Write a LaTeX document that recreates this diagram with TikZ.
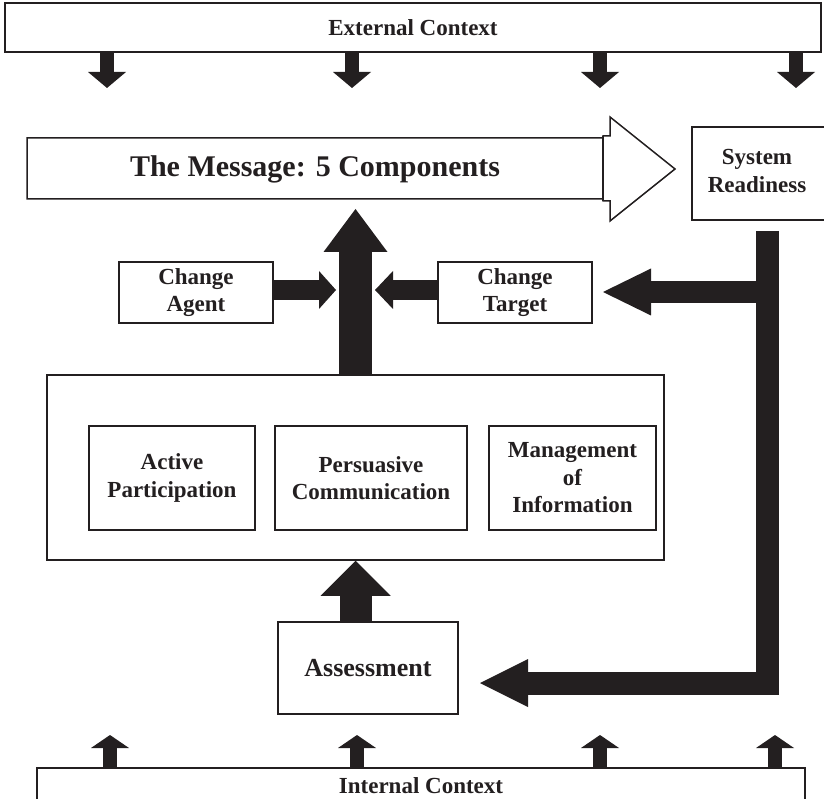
\documentclass[tikz,border=0pt]{standalone}
\usepackage{fontspec}
\setmainfont{Liberation Serif}
\usetikzlibrary{arrows.meta,calc}
\definecolor{ink}{HTML}{231F20}
\begin{document}
\begin{tikzpicture}[x=1pt,y=-1pt,
  box/.style={draw=ink, line width=1.5pt, fill=white, inner sep=0pt, align=center,
    text=ink, font=\bfseries\fontsize{23}{27.5}\selectfont},
  blockarrow/.style n args={3}{draw=ink, line width=#1, line join=miter,
    -{Triangle[width=#2, length=#3, line width=0pt]}},
]
\useasboundingbox (0,0) rectangle (824,799);

% context bands
\node[box, minimum width=816pt, minimum height=49pt] (ext) at (413,27.5) {External Context};
\node[box, anchor=north, minimum width=768pt, text height=21pt, text depth=40pt, inner ysep=5pt]
  (int) at (421,767) {Internal Context};

% the message (outlined block arrow)
\draw[draw=ink, line width=1.5pt, fill=white]
  (27,138) -- (603,138) -- (603,136) -- (610,136) -- (610,117) -- (675,169)
  -- (610,221) -- (610,201) -- (603,201) -- (603,199) -- (27,199) -- cycle;
\draw[draw=ink, line width=1.5pt] (603,136) -- (603,201);
\node[text=ink, font=\bfseries\fontsize{30}{36}\selectfont] (msg) at (315,169) {The Message: 5 Components};

% boxes
\node[box, minimum width=134pt, minimum height=93pt] (sr) at (759,173.5) {};
\node[text=ink, align=center, font=\bfseries\fontsize{23}{27.5}\selectfont] at (757,171) {System\\Readiness};
\node[box, minimum width=154pt, minimum height=61pt] (agent) at (196,292.5) {Change\\Agent};
\node[box, minimum width=154pt, minimum height=61pt] (target) at (515,292.5) {Change\\Target};
\node[box, minimum width=617pt, minimum height=185pt] (big) at (355.5,467.5) {};
\node[box, minimum width=166pt, minimum height=104pt] (ap) at (172,478) {Active\\Participation};
\node[box, minimum width=192pt, minimum height=104pt] (pc) at (371,478) {Persuasive\\Communication};
\node[box, minimum width=167pt, minimum height=104pt] (mi) at (572.5,478) {Management\\of\\Information};
\node[box, minimum width=180pt, minimum height=92pt, font=\bfseries\fontsize{26}{30}\selectfont]
  (assess) at (368,668) {Assessment};

% arrow end points
\coordinate (msgin) at (355.5,209);
\coordinate (agtip) at (336,290);
\coordinate (tgtip) at (375,290);
\coordinate (lstart) at (767.5,231);
\coordinate (ltip) at (480,683);
\coordinate (brtip) at (603,292);

% flows into the message
\draw[blockarrow={33pt}{64pt}{43pt}] (big.north) -- (msgin);
\draw[blockarrow={20pt}{38pt}{17pt}] (agent.east |- agtip) -- (agtip);
\draw[blockarrow={20pt}{38pt}{18pt}] (target.west |- tgtip) -- (tgtip);
\draw[blockarrow={32pt}{70pt}{35pt}] (assess.north -| big.south) -- (big.south);

% system readiness feedback
\draw[blockarrow={23pt}{48pt}{48pt}] (lstart) |- (ltip);
\draw[blockarrow={22pt}{47pt}{48pt}] (lstart |- brtip) -- (brtip);

% external context arrows
\foreach \i/\x in {1/107,2/352,3/600,4/796}{
  \coordinate (t\i) at (\x,88);
  \draw[blockarrow={14pt}{38pt}{16pt}] (ext.south -| t\i) -- (t\i);
}
% internal context arrows
\foreach \i/\x in {1/110,2/357,3/600,4/775}{
  \coordinate (b\i) at (\x,735);
  \draw[blockarrow={14pt}{38pt}{13pt}] (int.north -| b\i) -- (b\i);
}
\end{tikzpicture}
\end{document}
